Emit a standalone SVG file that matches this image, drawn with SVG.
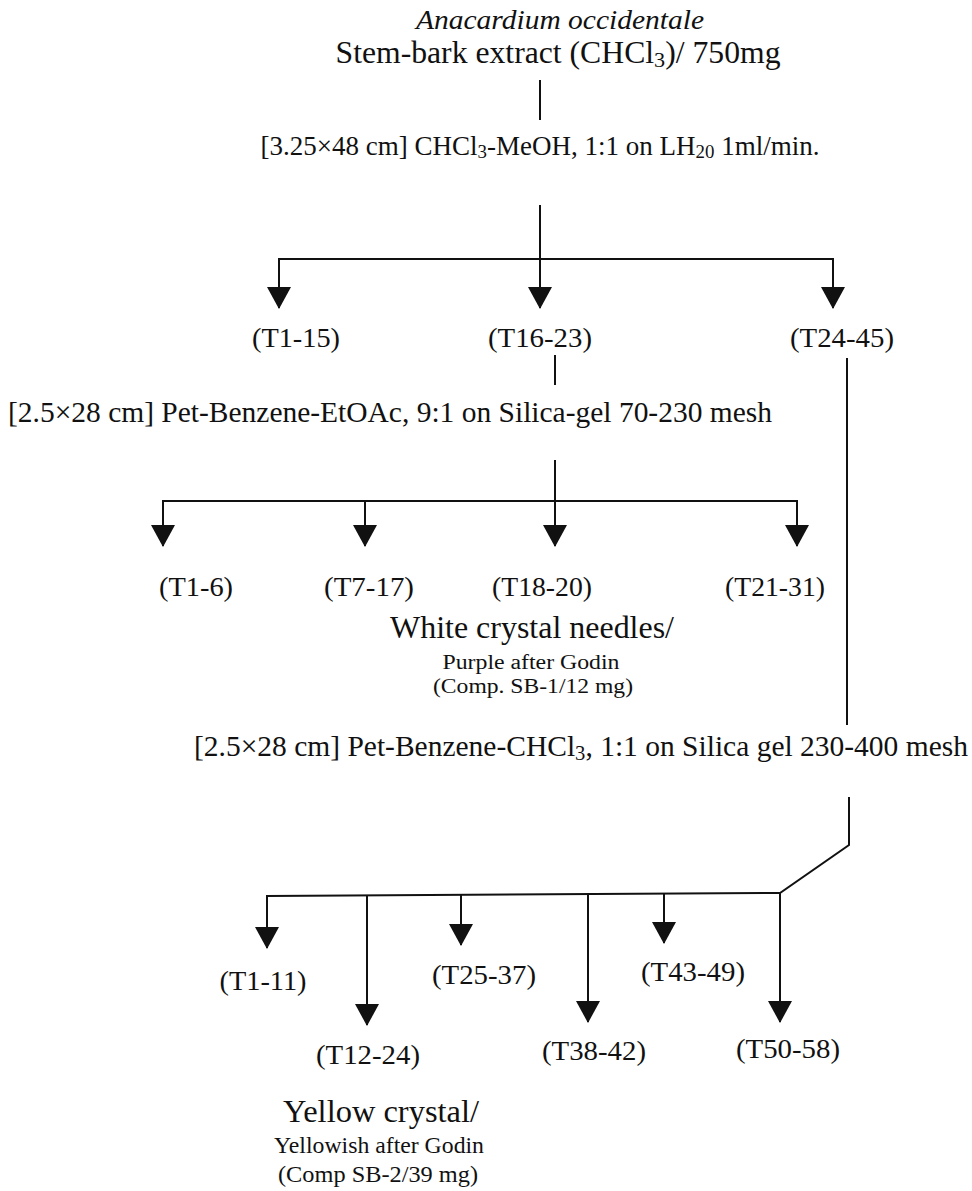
<svg xmlns="http://www.w3.org/2000/svg" width="972" height="1191" viewBox="0 0 972 1191">
<style>
text{font-family:"Liberation Serif","Times New Roman",serif;fill:#111;text-anchor:middle}
.it{font-style:italic}
.sub{font-size:70%;baseline-shift:-18%}
.ln{stroke:#111;stroke-width:2;fill:none}
</style>
<defs>
<marker id="arr" markerUnits="userSpaceOnUse" markerWidth="22" markerHeight="24" refX="21" refY="12" orient="auto" viewBox="0 0 22 24">
<path d="M0,0 L22,12 L0,24 Z" fill="#111"/>
</marker>
</defs>
<rect width="972" height="1191" fill="#fff"/>
<g id="start">
<text class="it" x="560" y="29" font-size="28" textLength="288" lengthAdjust="spacingAndGlyphs">Anacardium occidentale</text>
<text x="558" y="63" font-size="31" textLength="445" lengthAdjust="spacingAndGlyphs">Stem-bark extract (CHCl<tspan class="sub">3</tspan>)/ 750mg</text>
</g>
<g id="column1">
<text x="540" y="155" font-size="27" textLength="559" lengthAdjust="spacingAndGlyphs">[3.25×48 cm] CHCl<tspan class="sub">3</tspan>-MeOH, 1:1 on LH<tspan class="sub">20</tspan> 1ml/min.</text>
</g>
<g id="f1"><text x="296" y="347" font-size="28" textLength="88" lengthAdjust="spacingAndGlyphs">(T1-15)</text></g>
<g id="f2"><text x="540" y="347" font-size="28" textLength="104" lengthAdjust="spacingAndGlyphs">(T16-23)</text></g>
<g id="f3"><text x="842" y="347" font-size="28" textLength="104" lengthAdjust="spacingAndGlyphs">(T24-45)</text></g>
<g id="column2">
<text x="390" y="422" font-size="29" textLength="764" lengthAdjust="spacingAndGlyphs">[2.5×28 cm] Pet-Benzene-EtOAc, 9:1 on Silica-gel 70-230 mesh</text>
</g>
<g id="g1"><text x="196" y="596" font-size="28" textLength="74" lengthAdjust="spacingAndGlyphs">(T1-6)</text></g>
<g id="g2"><text x="369" y="596" font-size="28" textLength="90" lengthAdjust="spacingAndGlyphs">(T7-17)</text></g>
<g id="g3"><text x="542" y="596" font-size="28" textLength="100" lengthAdjust="spacingAndGlyphs">(T18-20)</text></g>
<g id="g4"><text x="775" y="596" font-size="28" textLength="100" lengthAdjust="spacingAndGlyphs">(T21-31)</text></g>
<g id="sb1">
<text x="532" y="638" font-size="32" textLength="284" lengthAdjust="spacingAndGlyphs">White crystal needles/</text>
<text x="531" y="669" font-size="20" textLength="177" lengthAdjust="spacingAndGlyphs">Purple after Godin</text>
<text x="533" y="693" font-size="22" textLength="200" lengthAdjust="spacingAndGlyphs">(Comp. SB-1/12 mg)</text>
</g>
<g id="column3">
<text x="581" y="756" font-size="29" textLength="774" lengthAdjust="spacingAndGlyphs">[2.5×28 cm] Pet-Benzene-CHCl<tspan class="sub">3</tspan>, 1:1 on Silica gel 230-400 mesh</text>
</g>
<g id="h1"><text x="263" y="990" font-size="28" textLength="87" lengthAdjust="spacingAndGlyphs">(T1-11)</text></g>
<g id="h2"><text x="368" y="1064" font-size="28" textLength="104" lengthAdjust="spacingAndGlyphs">(T12-24)</text></g>
<g id="h3"><text x="484" y="984" font-size="28" textLength="104" lengthAdjust="spacingAndGlyphs">(T25-37)</text></g>
<g id="h4"><text x="594" y="1060" font-size="28" textLength="104" lengthAdjust="spacingAndGlyphs">(T38-42)</text></g>
<g id="h5"><text x="693" y="981" font-size="28" textLength="104" lengthAdjust="spacingAndGlyphs">(T43-49)</text></g>
<g id="h6"><text x="788" y="1058" font-size="28" textLength="104" lengthAdjust="spacingAndGlyphs">(T50-58)</text></g>
<g id="sb2">
<text x="381" y="1122" font-size="32" textLength="196" lengthAdjust="spacingAndGlyphs">Yellow crystal/</text>
<text x="379" y="1153" font-size="23" textLength="210" lengthAdjust="spacingAndGlyphs">Yellowish after Godin</text>
<text x="378" y="1182" font-size="24" textLength="200" lengthAdjust="spacingAndGlyphs">(Comp SB-2/39 mg)</text>
</g>
<g id="connectors">
<line class="ln" x1="540" y1="80" x2="540" y2="120"/>
<line class="ln" x1="540" y1="205" x2="540" y2="308" marker-end="url(#arr)"/>
<line class="ln" x1="279" y1="259" x2="833" y2="259"/>
<line class="ln" x1="279" y1="258" x2="279" y2="308" marker-end="url(#arr)"/>
<line class="ln" x1="833" y1="258" x2="833" y2="308" marker-end="url(#arr)"/>
<line class="ln" x1="555" y1="355" x2="555" y2="385"/>
<line class="ln" x1="555" y1="460" x2="555" y2="546" marker-end="url(#arr)"/>
<line class="ln" x1="163" y1="501" x2="797" y2="501"/>
<line class="ln" x1="163" y1="500" x2="163" y2="546" marker-end="url(#arr)"/>
<line class="ln" x1="365" y1="500" x2="365" y2="546" marker-end="url(#arr)"/>
<line class="ln" x1="797" y1="500" x2="797" y2="546" marker-end="url(#arr)"/>
<line class="ln" x1="847" y1="358" x2="847" y2="725"/>
<polyline class="ln" points="849,797 849,845 780,893 267,896"/>
<line class="ln" x1="267" y1="895" x2="267" y2="948" marker-end="url(#arr)"/>
<line class="ln" x1="367" y1="895" x2="367" y2="1025" marker-end="url(#arr)"/>
<line class="ln" x1="461" y1="895" x2="461" y2="945" marker-end="url(#arr)"/>
<line class="ln" x1="588" y1="894" x2="588" y2="1022" marker-end="url(#arr)"/>
<line class="ln" x1="664" y1="894" x2="664" y2="943" marker-end="url(#arr)"/>
<line class="ln" x1="780" y1="893" x2="780" y2="1022" marker-end="url(#arr)"/>
</g>
</svg>
